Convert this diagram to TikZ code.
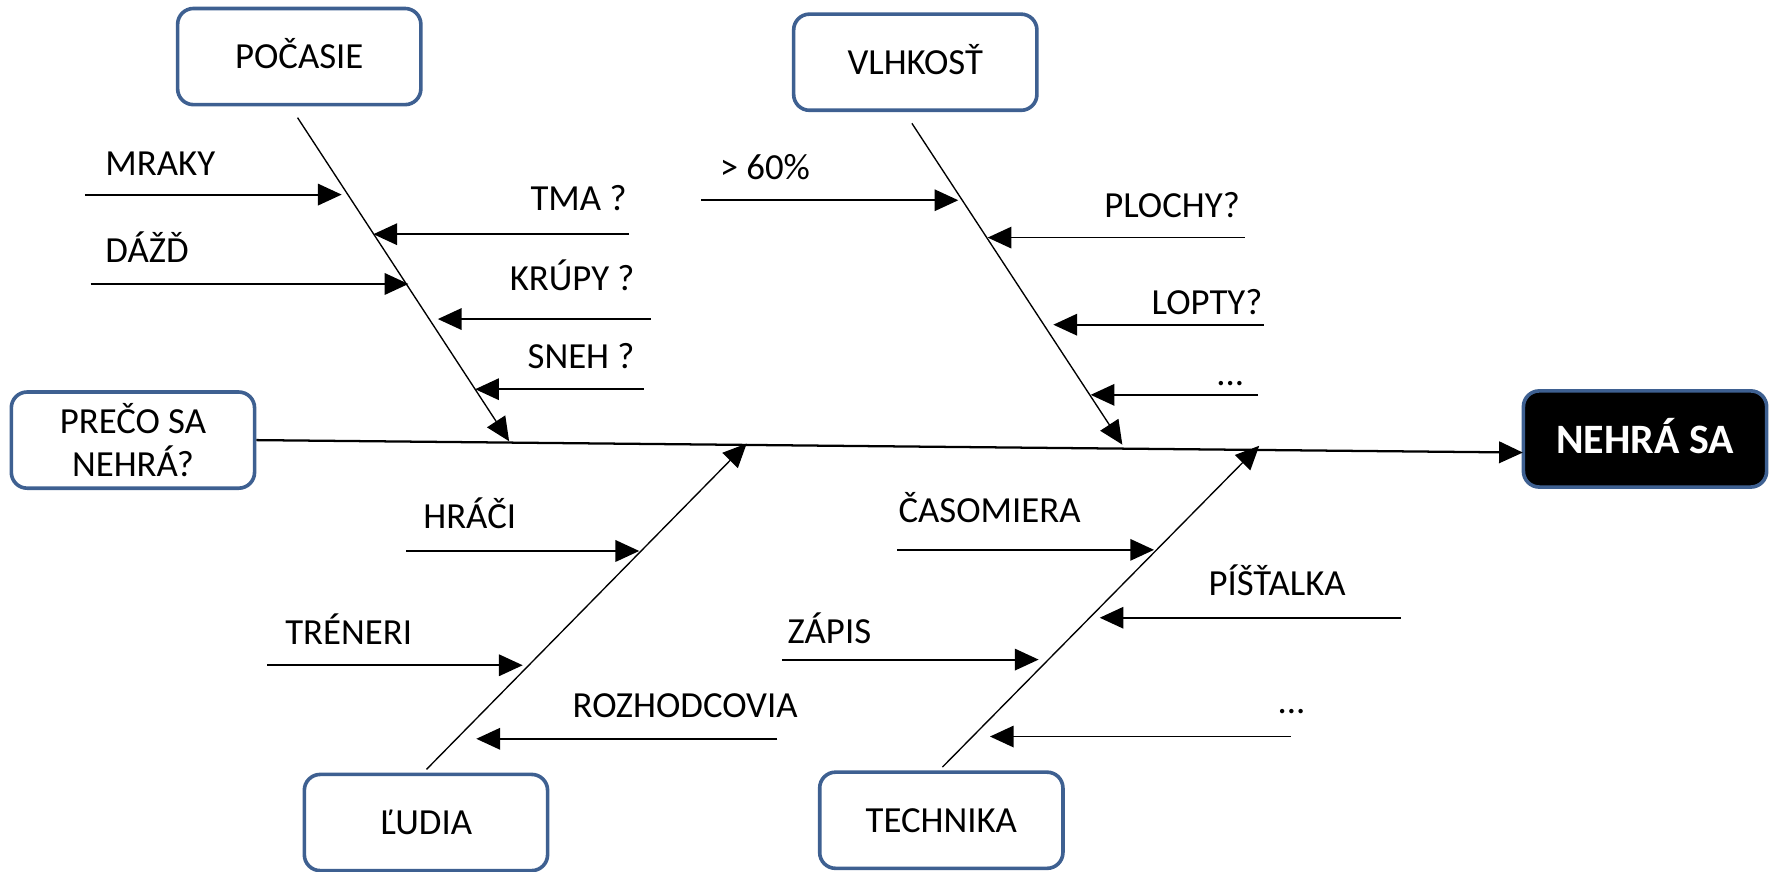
\documentclass[tikz,border=0pt]{standalone}
\usepackage{fontspec}
\setmainfont{Carlito}
\usetikzlibrary{arrows.meta}
\definecolor{boxblue}{RGB}{62,96,145}
\begin{document}
\begin{tikzpicture}[x=1pt,y=-1pt,
  cbox/.style={draw=boxblue, line width=3.2pt, rounded corners=14pt, minimum width=215pt, minimum height=85pt, font=\fontsize{32.5}{38}\selectfont, inner sep=0pt, fill=white},
  one/.style={text height=21pt, text depth=0pt},
  lbl/.style={font=\fontsize{32.5}{38}\selectfont, inner sep=0pt},
  sub/.style={line width=1.6pt, -{Triangle[length=21pt,width=19pt]}},
  bone/.style={line width=1.2pt, -{Triangle[length=21pt,width=19pt]}},
]
\useasboundingbox (0,0) rectangle (1568,770);
% boxes
\node[cbox,one] (poc) at (264.5,50) {POČASIE};
\node[cbox,one] (vlh) at (809,55) {VLHKOSŤ};
\node[cbox,align=center] (pre) at (117.5,389) {PREČO SA\\NEHRÁ?};
\node[cbox,fill=black,text=white,font=\fontsize{37}{44}\selectfont\bfseries,text height=25pt,text depth=0pt] (neh) at (1454,388) {NEHRÁ SA};
\node[cbox,one] (lud) at (376.5,727) {ĽUDIA};
\node[cbox,one] (tec) at (832,725) {TECHNIKA};
% spine
\coordinate (spE) at (1346,400);
\draw[line width=2pt, -{Triangle[length=21pt,width=19pt]}] (pre.east) -- (spE);
% bones
\coordinate (pocA) at (263,104); \coordinate (pocB) at (450,390);
\coordinate (vlhA) at (806,109); \coordinate (vlhB) at (992,393);
\coordinate (ludA) at (377,680); \coordinate (ludB) at (660,392);
\coordinate (tecA) at (833,678); \coordinate (tecB) at (1113,394);
\draw[bone] (pocA) -- (pocB);
\draw[bone] (vlhA) -- (vlhB);
\draw[bone] (ludA) -- (ludB);
\draw[bone] (tecA) -- (tecB);
% POCASIE sub-causes
\coordinate (m1) at (75,172);  \coordinate (m2) at (302,172);
\coordinate (d1) at (80,251);  \coordinate (d2) at (361,251);
\coordinate (t1) at (556,207); \coordinate (t2) at (330,207);
\coordinate (k1) at (575,282); \coordinate (k2) at (387,282);
\coordinate (s1) at (569,344); \coordinate (s2) at (420,344);
\draw[sub] (m1) -- (m2);
\draw[sub] (d1) -- (d2);
\draw[sub] (t1) -- (t2);
\draw[sub] (k1) -- (k2);
\draw[sub] (s1) -- (s2);
\node[lbl,anchor=base west] (lm) at (93,155) {MRAKY};
\node[lbl,anchor=base west] (ld) at (93,232) {DÁŽĎ};
\node[lbl,anchor=base east] (lt) at (554,186) {TMA ?};
\node[lbl,anchor=base east] (lk) at (561,257) {KRÚPY ?};
\node[lbl,anchor=base east] (ls) at (561,326) {SNEH ?};
% VLHKOST sub-causes
\coordinate (p1) at (620,177);  \coordinate (p2) at (847,177);
\coordinate (pl1) at (1100,210); \coordinate (pl2) at (873,210);
\coordinate (lo1) at (1117,287); \coordinate (lo2) at (931,287);
\coordinate (e1) at (1112,349); \coordinate (e2) at (964,349);
\draw[sub] (p1) -- (p2);
\draw[sub] (pl1) -- (pl2);
\draw[sub] (lo1) -- (lo2);
\draw[sub] (e1) -- (e2);
\node[lbl,anchor=base west] (lp) at (636,159) {> 60\%};
\node[lbl,anchor=base east] (lpl) at (1096,192) {PLOCHY?};
\node[lbl,anchor=base east] (llo) at (1116,278) {LOPTY?};
\node[lbl,anchor=base east] (le) at (1100,341) {...};
% LUDIA sub-causes
\coordinate (h1) at (359,487); \coordinate (h2) at (565,487);
\coordinate (tr1) at (236,588); \coordinate (tr2) at (462,588);
\coordinate (r1) at (687,653); \coordinate (r2) at (421,653);
\draw[sub] (h1) -- (h2);
\draw[sub] (tr1) -- (tr2);
\draw[sub] (r1) -- (r2);
\node[lbl,anchor=base west] (lh) at (374,467) {HRÁČI};
\node[lbl,anchor=base west] (ltr) at (252,570) {TRÉNERI};
\node[lbl,anchor=base west] (lr) at (506,634) {ROZHODCOVIA};
% TECHNIKA sub-causes
\coordinate (c1) at (793,486); \coordinate (c2) at (1020,486);
\coordinate (pi1) at (1238,546); \coordinate (pi2) at (972,546);
\coordinate (z1) at (691,583); \coordinate (z2) at (918,583);
\coordinate (f1) at (1141,651); \coordinate (f2) at (875,651);
\draw[sub] (c1) -- (c2);
\draw[sub] (pi1) -- (pi2);
\draw[sub] (z1) -- (z2);
\draw[sub] (f1) -- (f2);
\node[lbl,anchor=base west] (lc) at (794,462) {ČASOMIERA};
\node[lbl,anchor=base west] (lpi) at (1068,526) {PÍŠŤALKA};
\node[lbl,anchor=base west] (lz) at (696,569) {ZÁPIS};
\node[lbl,anchor=base west] (lf) at (1129,631) {...};
\end{tikzpicture}
\end{document}
